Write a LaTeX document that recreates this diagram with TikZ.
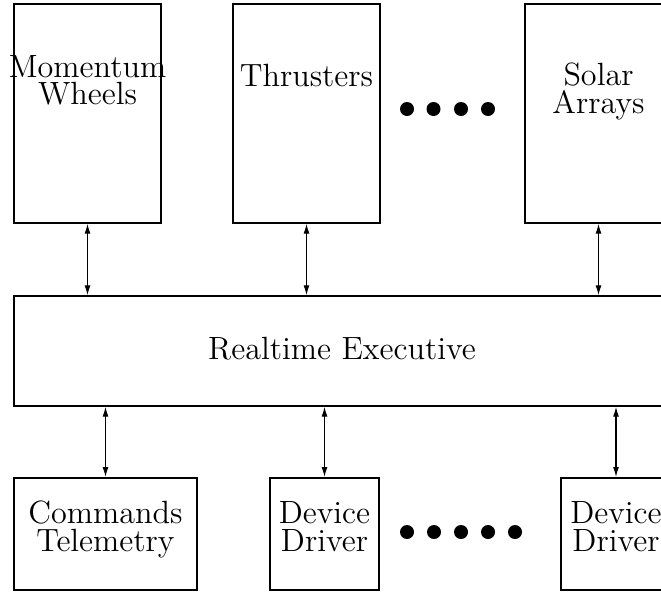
\documentclass[tikz,border=0pt]{standalone}
\usetikzlibrary{arrows.meta}
\begin{document}
\begin{tikzpicture}[x=1pt,y=-1pt,
  topbox/.style={draw,line width=1.4pt,inner sep=0pt,minimum width=147pt,minimum height=219pt},
  execbox/.style={draw,line width=1.4pt,inner sep=0pt,minimum width=656pt,minimum height=110pt},
  botbox/.style={draw,line width=2pt,inner sep=0pt,minimum height=112pt},
  lbl/.style={anchor=base,inner sep=0pt,scale=2.68,align=center,font=\fontsize{12}{10.26}\selectfont},
  arr/.style={line width=1.2pt,{Latex[length=10pt,width=6pt]}-{Latex[length=10pt,width=6pt]}},
  dot/.style={circle,fill,inner sep=0pt,minimum size=14pt}]
\useasboundingbox (0,0) rectangle (661,592);
\clip (0,0) rectangle (661,592);
% top boxes
\node[topbox] (mw) at (87.5,113.5) {};
\node[topbox] (th) at (306.5,113.5) {};
\node[topbox] (sa) at (598.5,113.5) {};
% multi-line labels: base anchor is the baseline of the last line
\node[lbl] (mwl) at (87.5,104.5) {Momentum\\Wheels};
\node[lbl] (thl) at (306.5,86.5) {Thrusters};
\node[lbl] (sal) at (598.5,113) {Solar\\Arrays};
\foreach \i/\x in {1/407,2/433.5,3/461,4/488}
  \node[dot] (td\i) at (\x,109) {};
% executive
\node[execbox] (ex) at (342,351) {};
\node[lbl] (exl) at (342,359) {Realtime Executive};
% bottom boxes
\node[botbox,minimum width=183pt] (ct) at (105.5,534) {};
\node[botbox,minimum width=109pt] (dd) at (324.5,534) {};
\node[botbox,minimum width=110pt] (dl) at (616,534) {};
\node[lbl] (ctl) at (105.5,551) {Commands\\Telemetry};
\node[lbl] (ddl) at (324.5,551) {Device\\Driver};
\node[lbl] (dll) at (616,551) {Device\\Driver};
\foreach \i/\x in {1/407,2/434,3/461,4/488,5/515}
  \node[dot] (bd\i) at (\x,532) {};
% connectors
\draw[arr] (mw.south) -- (mw.south |- ex.north);
\draw[arr] (th.south) -- (th.south |- ex.north);
\draw[arr] (sa.south) -- (sa.south |- ex.north);
\draw[arr] (ct.north |- ex.south) -- (ct.north);
\draw[arr] (dd.north |- ex.south) -- (dd.north);
\draw[arr] (dl.north |- ex.south) -- (dl.north);
\end{tikzpicture}
\end{document}
